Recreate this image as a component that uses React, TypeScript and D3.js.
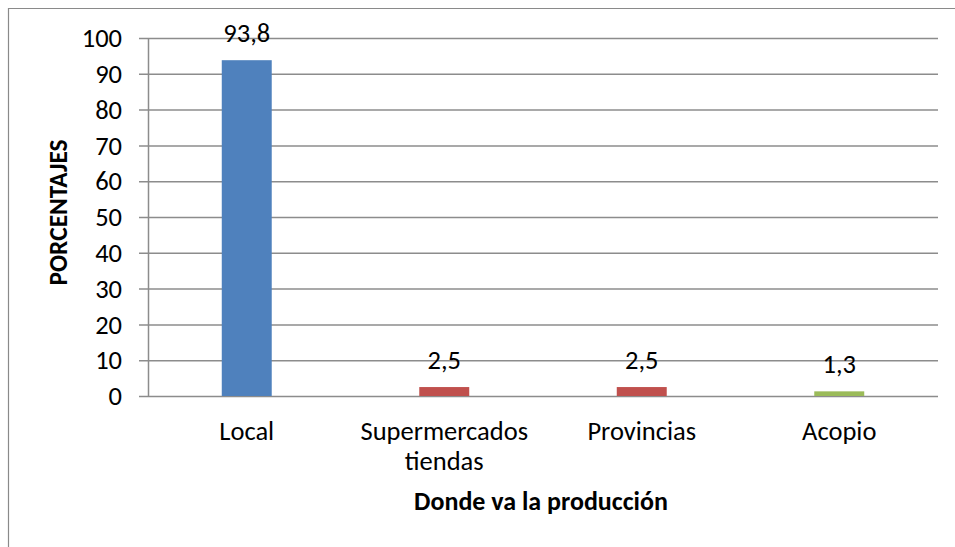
import React, { useEffect, useRef } from "react";
import * as d3 from "d3";

const categories = [["Local"], ["Supermercados", "tiendas"], ["Provincias"], ["Acopio"]];
const values = [93.8, 2.5, 2.5, 1.3];
const valueLabels = ["93,8", "2,5", "2,5", "1,3"];
const barColors = ["#4F81BD", "#C0504D", "#C0504D", "#9BBB59"];
const yTicks = [0, 10, 20, 30, 40, 50, 60, 70, 80, 90, 100];

const App = () => {
  const chartRef = useRef<SVGSVGElement>(null);

  useEffect(() => {
    const svg = d3.select(chartRef.current);
    svg.selectAll("*").remove();

    const width = 955,
      height = 547;
    const margin = { top: 38, right: 17, bottom: 151, left: 148 },
      innerWidth = width - margin.left - margin.right,
      innerHeight = height - margin.top - margin.bottom;
    const font = "Carlito, Lato, sans-serif";
    const fs = 26.5;

    // outer chart frame (cut off at right and bottom)
    svg.append("path")
      .attr("d", `M8.5,${height + 5} L8.5,8.5 L${width + 5},8.5`)
      .attr("fill", "none")
      .attr("stroke", "#8a8a8a")
      .attr("stroke-width", 1.2);

    const g = svg.append("g").attr("transform", `translate(${margin.left},${margin.top})`);

    const xScale = d3
      .scaleBand()
      .domain(categories.map(c => c.join(" ")))
      .range([0, innerWidth]);
    const yScale = d3.scaleLinear().domain([0, 100]).range([innerHeight, 0]);

    // gridlines + ticks
    g.selectAll(".grid")
      .data(yTicks)
      .join("line")
      .attr("x1", -9)
      .attr("x2", innerWidth)
      .attr("y1", d => yScale(d) + 0.5)
      .attr("y2", d => yScale(d) + 0.5)
      .attr("stroke", "#8c8c8c")
      .attr("stroke-width", 1.5);

    g.append("line")
      .attr("x1", 0.5)
      .attr("x2", 0.5)
      .attr("y1", 0)
      .attr("y2", innerHeight)
      .attr("stroke", "#8c8c8c")
      .attr("stroke-width", 1.5);

    g.selectAll(".ytick")
      .data(yTicks)
      .join("text")
      .attr("x", -26)
      .attr("y", d => yScale(d))
      .attr("dy", "0.35em")
      .attr("text-anchor", "end")
      .attr("font-family", font)
      .attr("font-size", fs)
      .attr("fill", "#000")
      .text(d => d);

    const barWidth = xScale.bandwidth() * 0.253;

    g.selectAll(".bar")
      .data(values)
      .join("rect")
      .attr("x", (d, i) => xScale(categories[i].join(" "))! + xScale.bandwidth() / 2 - barWidth / 2)
      .attr("y", d => yScale(d))
      .attr("width", barWidth)
      .attr("height", d => innerHeight - yScale(d))
      .attr("fill", (d, i) => barColors[i]);

    g.selectAll(".vlabel")
      .data(values)
      .join("text")
      .attr("x", (d, i) => xScale(categories[i].join(" "))! + xScale.bandwidth() / 2)
      .attr("y", d => yScale(d) - 18)
      .attr("text-anchor", "middle")
      .attr("font-family", font)
      .attr("font-size", fs)
      .attr("fill", "#000")
      .text((d, i) => valueLabels[i]);

    // category labels
    categories.forEach(lines => {
      const t = g.append("text")
        .attr("text-anchor", "middle")
        .attr("font-family", font)
        .attr("font-size", fs)
        .attr("fill", "#000");
      lines.forEach((line, j) => {
        t.append("tspan")
          .attr("x", xScale(lines.join(" "))! + xScale.bandwidth() / 2)
          .attr("y", innerHeight + 44 + j * 30)
          .text(line);
      });
    });

    // axis titles
    g.append("text")
      .attr("x", innerWidth / 2 - 2)
      .attr("y", innerHeight + 114)
      .attr("text-anchor", "middle")
      .attr("font-family", font)
      .attr("font-size", 26)
      .attr("font-weight", "bold")
      .attr("fill", "#000")
      .text("Donde va la producción");

    g.append("text")
      .attr("transform", `translate(${67 - margin.left},${innerHeight / 2 - 4.5}) rotate(-90)`)
      .attr("text-anchor", "middle")
      .attr("font-family", font)
      .attr("font-size", 25.4)
      .attr("font-weight", "bold")
      .attr("fill", "#000")
      .text("PORCENTAJES");
  }, []);

  return (
    <svg
      ref={chartRef}
      width={955}
      height={547}
      style={{ position: "fixed", left: 0, top: 0, background: "#fff" }}
    ></svg>
  );
};

export default App;
